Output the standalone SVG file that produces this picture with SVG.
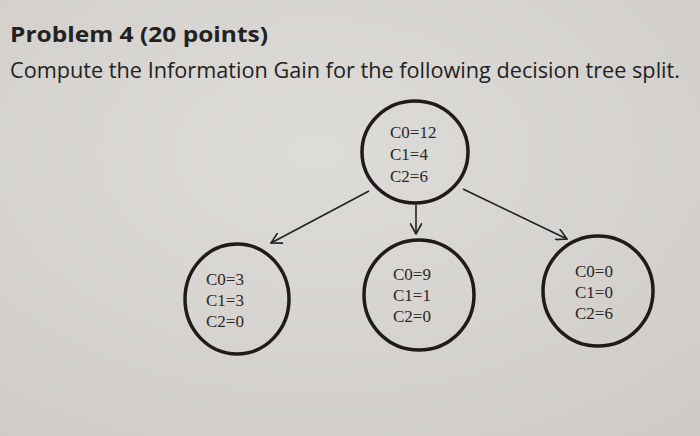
<svg xmlns="http://www.w3.org/2000/svg" width="700" height="436" viewBox="0 0 700 436">
<defs>
<radialGradient id="bg" cx="0.45" cy="0.35" r="0.8">
<stop offset="0" stop-color="#dedcd9"/>
<stop offset="1" stop-color="#cfccc8"/>
</radialGradient>
<marker id="ah" viewBox="0 0 12 12" refX="11" refY="6" markerWidth="12" markerHeight="12" markerUnits="userSpaceOnUse" orient="auto">
<path d="M0,0 L11,6 L0,12" fill="none" stroke="#222" stroke-width="1.6"/>
</marker>
<style>
.node{fill:none;stroke:#1f1b1a;stroke-width:3.5}
.lbl{font-family:"Liberation Serif","Times New Roman",serif;font-size:17px;fill:#2a2725}
.conn{stroke:#222;stroke-width:1.6;fill:none;marker-end:url(#ah)}
.hd{font-family:"Open Sans","Noto Sans",sans-serif;fill:#222}
</style>
</defs>
<rect width="700" height="436" fill="url(#bg)"/>
<text class="hd" x="10" y="42" font-size="22" font-weight="bold" textLength="258" lengthAdjust="spacingAndGlyphs">Problem 4 (20 points)</text>
<text class="hd" x="10" y="78" font-size="21" textLength="670" lengthAdjust="spacingAndGlyphs">Compute the Information Gain for the following decision tree split.</text>
<g id="connectors">
<line class="conn" x1="369" y1="191" x2="271" y2="243"/>
<line class="conn" x1="416" y1="205" x2="416" y2="234"/>
<line class="conn" x1="463" y1="189" x2="567" y2="239"/>
</g>
<g id="root">
<ellipse class="node" cx="415" cy="152" rx="53" ry="51"/>
<text class="lbl" x="390" y="138">C0=12</text>
<text class="lbl" x="390" y="160">C1=4</text>
<text class="lbl" x="390" y="182">C2=6</text>
</g>
<g id="left">
<ellipse class="node" cx="237" cy="299" rx="52" ry="55"/>
<text class="lbl" x="206" y="285">C0=3</text>
<text class="lbl" x="206" y="306">C1=3</text>
<text class="lbl" x="206" y="327">C2=0</text>
</g>
<g id="middle">
<ellipse class="node" cx="419" cy="295" rx="55" ry="55"/>
<text class="lbl" x="393" y="280">C0=9</text>
<text class="lbl" x="393" y="301">C1=1</text>
<text class="lbl" x="393" y="322">C2=0</text>
</g>
<g id="right">
<ellipse class="node" cx="598" cy="291" rx="55" ry="55"/>
<text class="lbl" x="575" y="277">C0=0</text>
<text class="lbl" x="575" y="298">C1=0</text>
<text class="lbl" x="575" y="319">C2=6</text>
</g>
</svg>
